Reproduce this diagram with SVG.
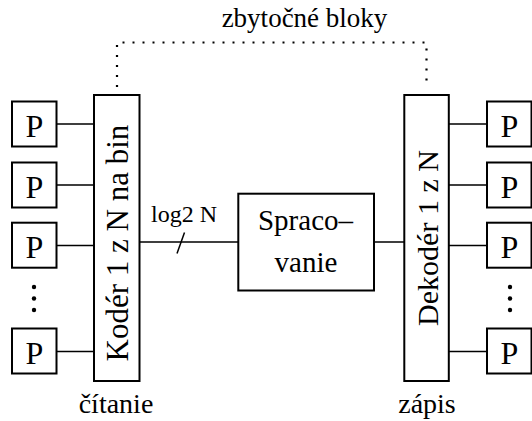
<svg xmlns="http://www.w3.org/2000/svg" width="532" height="421" viewBox="0 0 532 421">
<style>
.box{fill:#fff;stroke:#000;stroke-width:2}
.wire{fill:none;stroke:#000;stroke-width:1.5}
.dot{fill:none;stroke:#000;stroke-width:2.2;stroke-dasharray:2 8}
text{font-family:"Liberation Serif","Times New Roman",serif;fill:#000}
.p{font-size:32px;text-anchor:middle}
.lbl{font-size:28px;text-anchor:middle}
</style>
<defs>
<g id="pbox"><rect class="box" x="0" y="0" width="44.5" height="45"/><text class="p" x="22.5" y="35.5">P</text></g>
</defs>
<rect width="532" height="421" fill="#fff"/>
<g id="connectors">
<path class="wire" d="M56.5 124H94M56.5 185H94M56.5 245.5H94M56.5 351.5H94"/>
<path class="wire" d="M449 124H487M449 185H487M449 245.5H487M449 351.5H487"/>
<path class="wire" d="M140 242H238M374 242H404"/>
<path class="wire" d="M177 253.5L184.5 232.5"/>
<path class="dot" d="M117 87V42.5H426.5V87"/>
</g>
<g id="encoder">
<rect class="box" x="94" y="95" width="45.5" height="286"/>
<text font-size="31" text-anchor="middle" transform="translate(127.5 243) rotate(-90)">Kodér 1 z N na bin</text>
</g>
<g id="decoder">
<rect class="box" x="404.3" y="95" width="44.5" height="286"/>
<text font-size="30" text-anchor="middle" transform="translate(438 238) rotate(-90)">Dekodér 1 z N</text>
</g>
<g id="spracovanie">
<rect class="box" x="238.3" y="193.7" width="135.7" height="96.8"/>
<text font-size="29" text-anchor="middle" x="305.5" y="230">Spraco–</text>
<text font-size="29" text-anchor="middle" x="306" y="271.5">vanie</text>
</g>
<g id="p-left-1"><use href="#pbox" x="12" y="101.5"/></g>
<g id="p-left-2"><use href="#pbox" x="12" y="162.5"/></g>
<g id="p-left-3"><use href="#pbox" x="12" y="222.7"/></g>
<g id="p-left-4"><use href="#pbox" x="12" y="328.5"/></g>
<g id="p-right-1"><use href="#pbox" x="487" y="101.5"/></g>
<g id="p-right-2"><use href="#pbox" x="487" y="162.5"/></g>
<g id="p-right-3"><use href="#pbox" x="487" y="222.7"/></g>
<g id="p-right-4"><use href="#pbox" x="487" y="328.5"/></g>
<g id="ellipsis-left" fill="#000"><circle cx="34" cy="287" r="2.2"/><circle cx="34" cy="298.5" r="2.2"/><circle cx="34" cy="310" r="2.2"/></g>
<g id="ellipsis-right" fill="#000"><circle cx="510" cy="287" r="2.2"/><circle cx="510" cy="298.5" r="2.2"/><circle cx="510" cy="310" r="2.2"/></g>
<g id="labels">
<text class="lbl" x="116" y="413">čítanie</text>
<text class="lbl" x="427" y="413">zápis</text>
<text font-size="27" text-anchor="middle" x="304.5" y="26.5">zbytočné bloky</text>
<text font-size="24" text-anchor="middle" x="184" y="221.5">log2 N</text>
</g>
</svg>
